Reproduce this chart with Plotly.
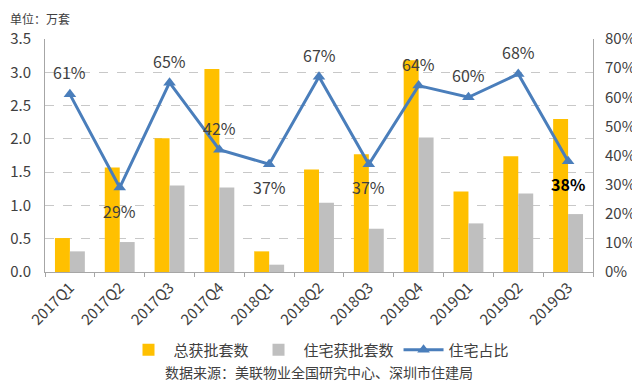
import plotly.graph_objects as go

categories = ["2017Q1", "2017Q2", "2017Q3", "2017Q4", "2018Q1", "2018Q2",
              "2018Q3", "2018Q4", "2019Q1", "2019Q2", "2019Q3"]
total_approved = [0.51, 1.57, 2.01, 3.05, 0.31, 1.54, 1.77, 3.18, 1.21, 1.74, 2.30]
residential_approved = [0.31, 0.45, 1.30, 1.27, 0.11, 1.04, 0.65, 2.02, 0.73, 1.18, 0.87]
residential_share = [61, 29, 65, 42, 37, 67, 37, 64, 60, 68, 38]
label_above = [True, False, True, True, False, True, False, True, True, True, False]

FONT = "Noto Sans CJK SC"
TXT = "#404040"

fig = go.Figure()
fig.add_trace(go.Bar(x=categories, y=total_approved, name="总获批套数",
                     marker=dict(color="#FFC000", line=dict(width=0))))
fig.add_trace(go.Bar(x=categories, y=residential_approved, name="住宅获批套数",
                     marker=dict(color="#BFBFBF", line=dict(width=0))))
fig.add_trace(go.Scatter(x=categories, y=residential_share, name="住宅占比", yaxis="y2",
                         mode="lines+markers",
                         line=dict(color="#4A7EBB", width=3),
                         marker=dict(symbol="triangle-up", size=11, color="#4A7EBB")))

for i, (c, v) in enumerate(zip(categories, residential_share)):
    last = i == len(categories) - 1
    fig.add_annotation(x=c, y=v, xref="x", yref="y2", text=f"<b>{v}%</b>" if last else f"{v}%",
                       showarrow=False, yshift=22 if label_above[i] else -23,
                       font=dict(family=FONT, size=16, color="#000000" if last else TXT))

fig.add_annotation(x=-0.0675, y=1.133, xref="paper", yref="paper", xanchor="left", yanchor="top",
                   text="单位：万套", showarrow=False,
                   font=dict(family=FONT, size=12, color=TXT))
fig.add_annotation(x=0.5, y=-0.4292, xref="paper", yref="paper", xanchor="center", yanchor="middle",
                   text="数据来源：美联物业全国研究中心、深圳市住建局", showarrow=False,
                   font=dict(family=FONT, size=14, color=TXT))

fig.update_layout(
    width=632, height=373,
    margin=dict(l=37, r=47, t=31, b=109, autoexpand=False),
    paper_bgcolor="white", plot_bgcolor="white",
    barmode="group", bargap=0.4, bargroupgap=0,
    font=dict(family=FONT, size=14, color=TXT),
    showlegend=True,
    legend=dict(orientation="h", x=0.5, xanchor="center", y=-0.3348, yanchor="middle",
                font=dict(family=FONT, size=15, color=TXT), itemwidth=40,
                bgcolor="rgba(0,0,0,0)"),
    xaxis=dict(range=[-0.5, 10.5], tickangle=-45, showline=True, linecolor="#A6A6A6",
               linewidth=1, ticks="outside", ticklen=4, tickcolor="#A6A6A6",
               tickson="boundaries", tickfont=dict(family=FONT, size=15, color=TXT),
               showgrid=False, automargin=False),
    yaxis=dict(range=[0, 3.5], dtick=0.5, tickformat=".1f", showline=True,
               linecolor="#A6A6A6", linewidth=1, showgrid=True, gridcolor="#C8C8C8",
               griddash="dash", gridwidth=1, zeroline=False, automargin=False,
               ticklabelstandoff=10,
               tickfont=dict(family=FONT, size=15, color=TXT)),
    yaxis2=dict(range=[0, 80], dtick=10, ticksuffix="%", overlaying="y", side="right",
                showline=True, linecolor="#A6A6A6", linewidth=1, showgrid=False,
                zeroline=False, automargin=False, ticklabelstandoff=8,
                tickfont=dict(family=FONT, size=15, color=TXT)),
)

fig.write_html("out.html")
